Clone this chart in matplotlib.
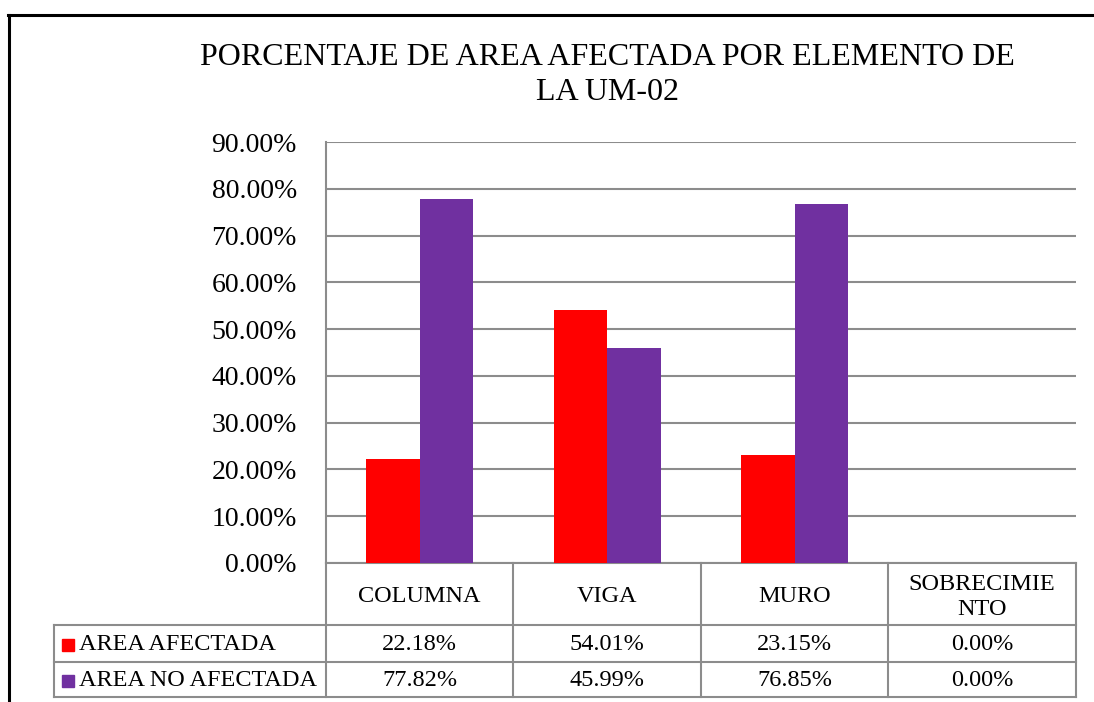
import matplotlib
matplotlib.use("Agg")
import matplotlib.pyplot as plt
from matplotlib.lines import Line2D
from matplotlib.patches import Rectangle
import numpy as np

# data
categorias = ["COLUMNA", "VIGA", "MURO", "SOBRECIMIE\nNTO"]
series = ["AREA AFECTADA", "AREA NO AFECTADA"]
afectada = [0.2218, 0.5401, 0.2315, 0.0]
no_afectada = [0.7782, 0.4599, 0.7685, 0.0]
colores = ["#FF0000", "#7030A0"]
titulo = "PORCENTAJE DE AREA AFECTADA POR ELEMENTO DE\nLA UM-02"

plt.rcParams["font.family"] = ["Liberation Serif", "DejaVu Serif"]
W, H = 1094, 702
gris = "#8c8c8c"

fig = plt.figure(figsize=(W / 100, H / 100), dpi=100)

def fx(x):
    return x / W

def fy(y):
    return 1 - y / H

# plot area
ax = fig.add_axes([fx(326), fy(563), fx(1076) - fx(326), fy(142) - fy(563)])
x = np.arange(len(categorias))
w = 1 / 3.5
ax.bar(x - w / 2, afectada, w, color=colores[0], zorder=3)
ax.bar(x + w / 2, no_afectada, w, color=colores[1], zorder=3)
ax.set_xlim(-0.5, len(categorias) - 0.5)
ax.set_ylim(0, 0.9)
ax.set_yticks(np.arange(0, 0.91, 0.1))
ax.set_yticklabels(["{:.2f}%".format(v * 100) for v in np.arange(0, 0.91, 0.1)], fontsize=20)
ax.set_xticks([])
ax.tick_params(axis="y", length=0, pad=21)
ax.grid(axis="y", color=gris, lw=1.5, zorder=0)
for s in ["top", "right"]:
    ax.spines[s].set_visible(False)
for s in ["left", "bottom"]:
    ax.spines[s].set_color(gris)
    ax.spines[s].set_linewidth(1.5)

# title
fig.text(fx(607), fy(75), titulo, ha="center", va="center", fontsize=23, linespacing=1.3)

# data table
tx = fig.add_axes([0, 0, 1, 1], facecolor="none")
tx.set_xlim(0, W)
tx.set_ylim(H, 0)
tx.axis("off")
cols = [326, 513, 701, 888, 1076]
rows = [563, 625, 662, 697]
for cx in cols:
    tx.add_line(Line2D([cx, cx], [rows[0], rows[-1]], color=gris, lw=1.5))
tx.add_line(Line2D([54, 54], [rows[1], rows[-1]], color=gris, lw=1.5))
for ry in rows[1:]:
    tx.add_line(Line2D([54, 1076], [ry, ry], color=gris, lw=1.5))

for i, cat in enumerate(categorias):
    cx = (cols[i] + cols[i + 1]) / 2
    tx.text(cx, (rows[0] + rows[1]) / 2 + 3, cat, ha="center", va="center", fontsize=17.5, linespacing=1.2)
    for j, vals in enumerate([afectada, no_afectada]):
        tx.text(cx, (rows[j + 1] + rows[j + 2]) / 2 + 1, "{:.2f}%".format(vals[i] * 100),
                ha="center", va="center", fontsize=17.5)

for j, nombre in enumerate(series):
    cy = (rows[j + 1] + rows[j + 2]) / 2
    tx.add_patch(Rectangle((62, cy - 5), 12, 12, color=colores[j]))
    tx.text(79, cy + 1, nombre, ha="left", va="center", fontsize=17.5)

# outer border
tx.add_line(Line2D([8, W], [15, 15], color="black", lw=2.2))
tx.add_line(Line2D([9, 9], [15, H], color="black", lw=2.2))

fig.savefig("out.png", dpi=100)
